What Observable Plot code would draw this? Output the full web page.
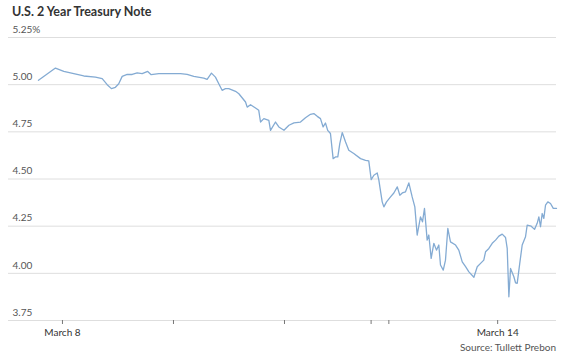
<!DOCTYPE html>
<html>
<head>
<meta charset="utf-8">
<script src="https://cdn.jsdelivr.net/npm/d3@7"></script>
<script src="https://cdn.jsdelivr.net/npm/@observablehq/plot@0.6"></script>
<style>
  html, body { margin: 0; padding: 0; background: #fff; }
  body { width: 566px; height: 360px; overflow: hidden; font-family: Lato, "Open Sans", sans-serif; }
  #title { position: absolute; left: 12px; top: 4px; font-size: 12.5px; font-weight: bold; color: #333; font-family: Lato, "Open Sans", sans-serif; }
  #chart { position: absolute; left: 0; top: 24px; }
  #source { position: absolute; right: 10px; top: 341px; font-size: 10px; color: #555; }
</style>
</head>
<body>
<div id="title">U.S. 2 Year Treasury Note</div>
<div id="chart"></div>
<div id="source">Source: Tullett Prebon</div>
<script>
// Trading-session time, in days from the March 8 tick (weekend compressed)
const sessionTime = [
  -0.216, -0.063, 0.012, 0.102, 0.192, 0.297, 0.358, 0.403, 0.441, 0.477,
  0.507, 0.538, 0.583, 0.628, 0.673, 0.718, 0.768, 0.799, 0.868, 0.973,
  1.063, 1.123, 1.183, 1.273, 1.303, 1.342, 1.378, 1.408, 1.438, 1.468,
  1.498, 1.559, 1.589, 1.649, 1.664, 1.694, 1.739, 1.768, 1.784, 1.814,
  1.859, 1.874, 1.919, 1.949, 1.995, 2.040, 2.085, 2.144, 2.189, 2.234,
  2.264, 2.295, 2.324, 2.348, 2.369, 2.389, 2.414, 2.438, 2.459, 2.480,
  2.498, 2.520, 2.550, 2.579, 2.624, 2.685, 2.730, 2.759, 2.781, 2.805,
  2.835, 2.850, 2.859, 2.880, 2.895, 2.919, 2.955, 2.985, 3.016, 3.039,
  3.061, 3.090, 3.120, 3.150, 3.174, 3.195, 3.225, 3.243, 3.261, 3.285,
  3.300, 3.321, 3.345, 3.369, 3.390, 3.405, 3.430, 3.450, 3.471, 3.495,
  3.541, 3.570, 3.601, 3.631, 3.661, 3.706, 3.736, 3.766, 3.795, 3.811,
  3.841, 3.871, 3.901, 3.931, 3.961, 3.991, 4.006, 4.021, 4.036, 4.066,
  4.081, 4.096, 4.119, 4.141, 4.171, 4.186, 4.222, 4.252, 4.276, 4.291,
  4.306, 4.321, 4.336, 4.351, 4.372, 4.396, 4.421, 4.450
];
// Yield, percent
const yieldPct = [
  5.023, 5.088, 5.070, 5.058, 5.046, 5.040, 5.032, 5.000, 4.979, 4.986,
  5.005, 5.044, 5.054, 5.054, 5.063, 5.058, 5.070, 5.053, 5.058, 5.058,
  5.058, 5.054, 5.044, 5.035, 5.028, 5.061, 5.040, 5.005, 4.970, 4.979,
  4.979, 4.965, 4.952, 4.908, 4.881, 4.894, 4.876, 4.864, 4.802, 4.820,
  4.811, 4.758, 4.802, 4.776, 4.758, 4.785, 4.797, 4.802, 4.825, 4.843,
  4.847, 4.832, 4.820, 4.776, 4.797, 4.758, 4.741, 4.608, 4.617, 4.617,
  4.688, 4.746, 4.696, 4.652, 4.635, 4.608, 4.599, 4.596, 4.497, 4.520,
  4.532, 4.494, 4.458, 4.379, 4.352, 4.379, 4.405, 4.426, 4.458, 4.414,
  4.426, 4.432, 4.479, 4.405, 4.352, 4.203, 4.299, 4.273, 4.344, 4.176,
  4.203, 4.079, 4.159, 4.123, 4.150, 4.044, 4.017, 4.070, 4.238, 4.167,
  4.150, 4.123, 4.061, 4.035, 4.008, 3.979, 4.035, 4.053, 4.070, 4.114,
  4.132, 4.159, 4.176, 4.197, 4.208, 4.190, 4.132, 3.876, 4.026, 3.982,
  3.950, 3.947, 4.053, 4.150, 4.194, 4.256, 4.250, 4.233, 4.265, 4.299,
  4.247, 4.317, 4.291, 4.361, 4.379, 4.370, 4.344, 4.344
];
const yTicks = [3.75, 4.00, 4.25, 4.50, 4.75, 5.00, 5.25];
const yTickLabels = ["3.75", "4.00", "4.25", "4.50", "4.75", "5.00", "5.25%"];
const xTicks = [0, 1, 2, 2.78, 2.94, 3.92];
const xTickLabels = ["March 8", "", "", "", "", "March 14"];
const xDomain = [-0.486, 4.45];
const yDomain = [3.75, 5.25];

const data = sessionTime.map((t, i) => ({t, v: yieldPct[i]}));

const chart = Plot.plot({
  width: 566,
  height: 316,
  marginLeft: 8,
  marginRight: 10,
  marginTop: 13,
  marginBottom: 20,
  style: {fontFamily: "Lato, 'Open Sans', sans-serif", fontSize: "10px", color: "#444", background: "#fff"},
  x: {type: "linear", domain: xDomain, label: null},
  y: {domain: yDomain, axis: null, label: null},
  marks: [
    Plot.ruleY(yTicks, {stroke: "#dedede", strokeWidth: 1}),
    Plot.text(yTicks, {y: d => d, frameAnchor: "left", text: (d, i) => yTickLabels[i], textAnchor: "start", dx: 4, dy: -8, fill: "#555", fontSize: 10}),
    Plot.axisX({ticks: xTicks, tickFormat: (d, i) => xTickLabels[i], tickSize: 4, tickPadding: 4, stroke: "#777", fill: "#333", fontSize: 10, label: null}),
    Plot.line(data, {x: "t", y: "v", stroke: "#84abd3", strokeWidth: 1.3, strokeLinejoin: "round"})
  ]
});
document.getElementById("chart").appendChild(chart);
</script>
</body>
</html>
